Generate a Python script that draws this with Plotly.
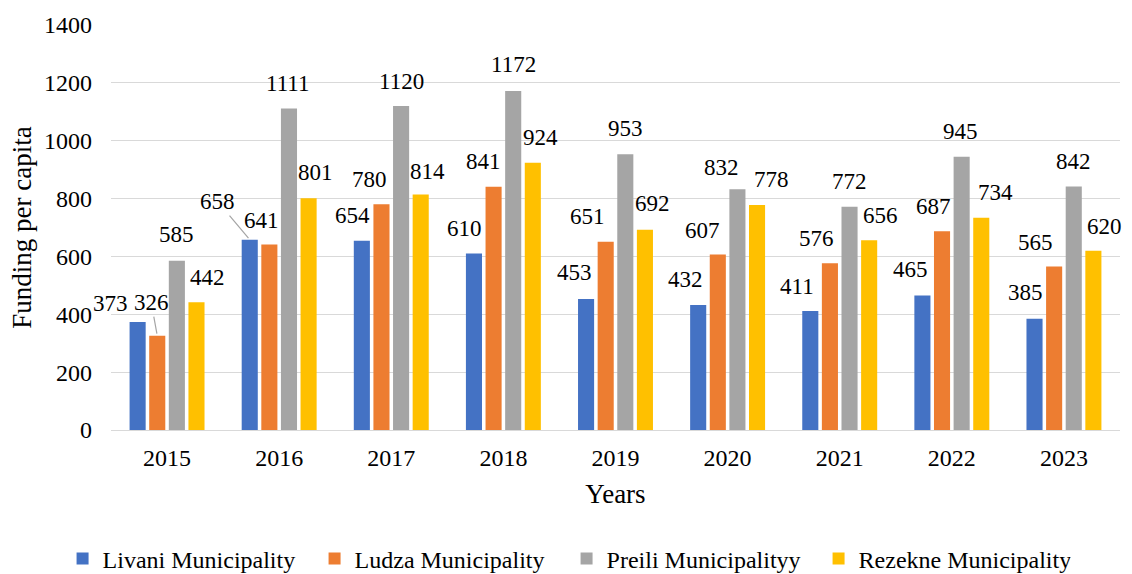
import plotly.graph_objects as go

years = ["2015", "2016", "2017", "2018", "2019", "2020", "2021", "2022", "2023"]
series_names = ["Livani Municipality", "Ludza Municipality", "Preili Municipalityy", "Rezekne Municipality"]
livani = [373, 658, 654, 610, 453, 432, 411, 465, 385]
ludza = [326, 641, 780, 841, 651, 607, 576, 687, 565]
preili = [585, 1111, 1120, 1172, 953, 832, 772, 945, 842]
rezekne = [442, 801, 814, 924, 692, 778, 656, 734, 620]
series_values = [livani, ludza, preili, rezekne]

colors = ["#4472C4", "#ED7D31", "#A5A5A5", "#FFC000"]

# label nudges in pixels (dx right, dy up) relative to bar top-centre
label_nudge = [
    [(-27, 19), (-32, 38), (-9, 25), (-9, 25), (-12, 26), (-13, 26), (-13, 25), (-12, 26), (-9, 26)],
    [(-6, 33), (-8, 24), (-12, 25), (-10, 25), (-18, 25), (-15, 24), (-13, 25), (-9, 25), (-19, 24)],
    [(0, 26), (-1, 25), (0, 25), (0, 26), (0, 26), (-16, 22), (0, 25), (-1, 25), (0, 25)],
    [(11, 25), (7, 26), (7, 23), (8, 25), (8, 26), (14, 25), (11, 25), (14, 25), (11, 24)],
]
leader = {(0, 1), (1, 0)}  # (year index, series index) with leader lines

FONT = "Liberation Serif"
BARGAP = 0.30
LABEL_SIZE = 23

fig = go.Figure()
for name, vals, col in zip(series_names, series_values, colors):
    fig.add_trace(go.Bar(x=years, y=vals, name=name, marker=dict(color=col, line=dict(width=0))))

annotations = []
n = len(series_values)
for si, vals in enumerate(series_values):
    for yi, v in enumerate(vals):
        dx, dy = label_nudge[si][yi]
        xpos = yi + (si - (n - 1) / 2) * (1 - BARGAP) / n
        if (yi, si) in leader:
            annotations.append(dict(
                x=xpos, y=v, xref="x", yref="y", text=str(v), showarrow=True,
                arrowhead=0, arrowwidth=1.2, arrowcolor="#A5A5A5", ax=dx, ay=-dy,
                standoff=2, font=dict(family=FONT, size=LABEL_SIZE, color="black")))
        else:
            annotations.append(dict(
                x=xpos, y=v, xref="x", yref="y", text=str(v), showarrow=False,
                xshift=dx, yshift=dy, yanchor="middle", xanchor="center",
                font=dict(family=FONT, size=LABEL_SIZE, color="black")))

fig.update_layout(
    width=1132, height=574,
    margin=dict(l=111, r=12, t=25, b=144, autoexpand=False),
    paper_bgcolor="white", plot_bgcolor="white",
    barmode="group", bargap=BARGAP, bargroupgap=0.18,
    font=dict(family=FONT, size=24, color="black"),
    annotations=annotations,
    showlegend=True,
    legend=dict(orientation="h", x=-0.048, xanchor="left", y=-0.318, yanchor="middle",
                font=dict(family=FONT, size=24, color="black"),
                entrywidth=207, entrywidthmode="pixels", itemwidth=30),
    xaxis=dict(type="category", range=[-0.5, len(years) - 0.5], autorange=False,
               showgrid=False, showline=True, linecolor="#D9D9D9", linewidth=1,
               ticks="", ticklabelstandoff=6, automargin=False,
               tickfont=dict(family=FONT, size=24),
               title=dict(text="Years", standoff=14, font=dict(family=FONT, size=27))),
    yaxis=dict(range=[0, 1400], autorange=False, dtick=200, showgrid=True, gridcolor="#D9D9D9", gridwidth=1,
               zeroline=False, showline=False, ticks="", ticklabelstandoff=18, automargin=False,
               tickfont=dict(family=FONT, size=24),
               title=dict(text="Funding per capita", standoff=4, font=dict(family=FONT, size=27))),
)

fig.write_html("out.html", config={"displayModeBar": False},
               post_script="document.body.style.margin='0';")
